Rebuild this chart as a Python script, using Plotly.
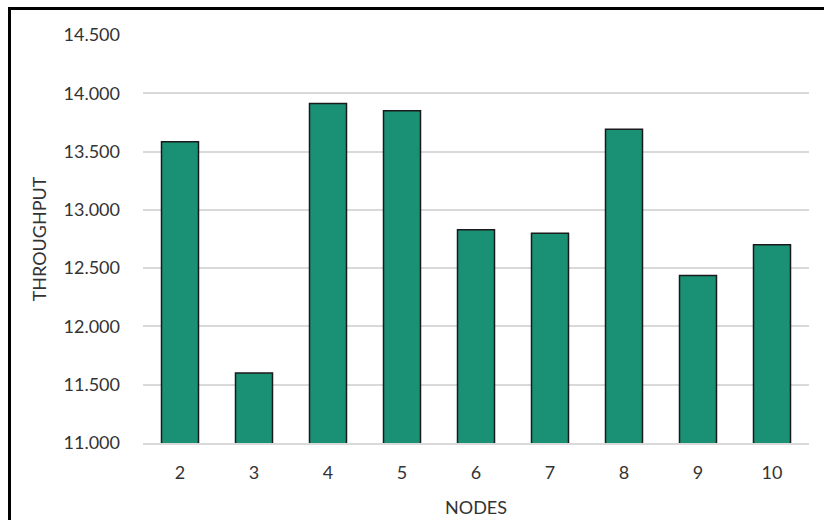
import plotly.graph_objects as go

nodes = ["2", "3", "4", "5", "6", "7", "8", "9", "10"]
throughput = [13.585, 11.600, 13.913, 13.850, 12.830, 12.800, 13.692, 12.437, 12.700]
y_ticks = [11.0, 11.5, 12.0, 12.5, 13.0, 13.5, 14.0, 14.5]

W, H = 824, 520
ML, MR, MT, MB = 143, 15, 35, 77
pw, ph = W - ML - MR, H - MT - MB

fig = go.Figure(go.Bar(
    x=nodes, y=throughput,
    marker=dict(color="#1a9174", line=dict(color="#1a1a1a", width=1.5)),
    width=0.5,
))

font = "Lato, 'Open Sans', sans-serif"
fig.update_layout(
    width=W, height=H,
    margin=dict(l=ML, r=MR, t=MT, b=MB),
    paper_bgcolor="white", plot_bgcolor="white",
    showlegend=False,
    font=dict(family=font, color="#333333", size=18),
    xaxis=dict(
        type="category", showgrid=False, showline=True, linecolor="#d9d9d9", linewidth=2,
        ticks="", tickfont=dict(size=18), ticklabelstandoff=12, automargin=False,
        title=dict(text="NODES", font=dict(size=18), standoff=20),
    ),
    yaxis=dict(
        range=[11.0, 14.5], tickvals=y_ticks, tickformat=".3f",
        showgrid=True, gridcolor="#d9d9d9", gridwidth=2, zeroline=False,
        ticks="", tickfont=dict(size=18), ticklabelstandoff=22, automargin=False,
        title=dict(text="THROUGHPUT", font=dict(size=18), standoff=12),
    ),
)

def px_x(p):
    return (p - ML) / pw

def px_y(p):
    return 1 - (p - MT) / ph

fig.add_shape(type="line", xref="paper", yref="paper",
              x0=px_x(9.5), x1=px_x(W + 5), y0=px_y(8.5), y1=px_y(8.5),
              line=dict(color="black", width=3))
fig.add_shape(type="line", xref="paper", yref="paper",
              x0=px_x(9.5), x1=px_x(9.5), y0=px_y(7), y1=px_y(H + 5),
              line=dict(color="black", width=3))

fig.write_html("out.html")
